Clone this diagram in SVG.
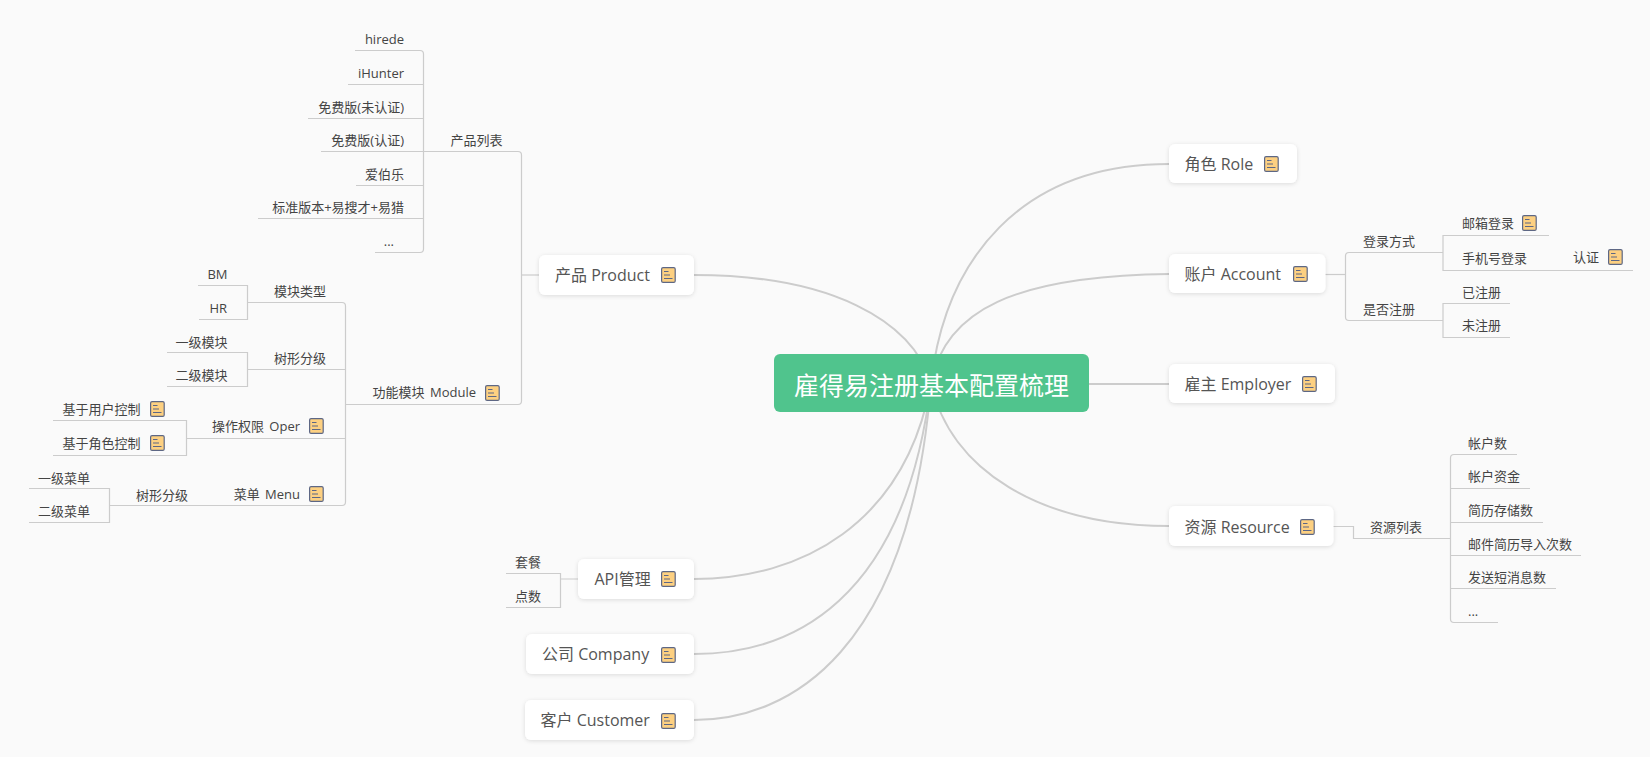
<svg xmlns="http://www.w3.org/2000/svg" width="1650" height="757" viewBox="0 0 1650 757">
<defs>
<symbol id="note" viewBox="0 0 15 16" overflow="visible">
<rect x="0.6" y="0.6" width="13.6" height="14.8" rx="1.5" fill="#fdd081" stroke="#5d6785" stroke-width="1.2"/>
<path d="M3 4.5H7.5M3 8H9M3 11.5H11.5" stroke="#5d6785" stroke-width="1.2" fill="none"/>
</symbol>
<filter id="sh" x="-10%" y="-20%" width="120%" height="150%"><feDropShadow dx="0" dy="1" stdDeviation="2" flood-color="#000" flood-opacity="0.12"/></filter>
</defs>
<style>
text{font-family:"Open Sans","Noto Sans CJK SC",sans-serif;dominant-baseline:central;fill:#444;transform:translateY(1px)}
.n{fill:#fff;filter:url(#sh)}
.t1{font-size:16px;fill:#555}
.t2{font-size:13px;word-spacing:2px}
.r{font-size:25px;fill:#fff}
.c{fill:none;stroke:#ccc;stroke-width:2}
.l{fill:none;stroke:#ccc;stroke-width:1.2}
</style>
<rect width="1650" height="757" fill="#fafafa"/>
<g id="connectors">
<path class="c" d="M931 383C945 260 1020 164 1169 164"/>
<path class="c" d="M931 383C945 310 1015 276 1169 274"/>
<path class="c" d="M1089 384H1169"/>
<path class="c" d="M931 383C950 470 1040 526 1169 526"/>
<path class="c" d="M931 383C912 320 830 275 694 275"/>
<path class="c" d="M931 383C905 525 800 579 694 579"/>
<path class="c" d="M931 383C905 603 790 654 694 654"/>
<path class="c" d="M931 383C910 651 790 720 694 720"/>
<path class="l" d="M355 50.500H420Q423.500 50.500 423.500 54V249Q423.500 252.500 420 252.500H375"/>
<path class="l" d="M348 84.500H423.500M308 118.500H423.500M321 151.500H518Q521.500 151.500 521.500 155V401Q521.500 404.500 518 404.500H346M356 185.500H423.500M258 218.500H423.500"/>
<path class="l" d="M521.500 275H539"/>
<path class="l" d="M198 285.500H247.500V319.500H199M247.500 302.500H342Q345.500 302.500 345.500 306V502Q345.500 505.500 342 505.500H207"/>
<path class="l" d="M167 352.500H247.500V386.500H167M247.500 369.500H345.500"/>
<path class="l" d="M53 420.500H186.500V455.500H53M186.500 438.500H345.500"/>
<path class="l" d="M29 488.500H109.500V522.500H29M109.500 505.500H207"/>
<path class="l" d="M506 573.500H560.500V607.500H506M560.500 579H578"/>
<path class="l" d="M1325 274.500H1345.500"/>
<path class="l" d="M1443 252.500H1349Q1345.500 252.500 1345.500 256V317Q1345.500 320.500 1349 320.500H1443"/>
<path class="l" d="M1549 235.500H1443V270.500H1633"/>
<path class="l" d="M1510 303.500H1443V337.500H1510"/>
<path class="l" d="M1333 526.500H1353.500V538.500H1450.500"/>
<path class="l" d="M1517 454.500H1454Q1450.500 454.500 1450.500 458V619Q1450.500 622.500 1454 622.500H1498"/>
<path class="l" d="M1450.500 488.500H1530M1450.500 522.500H1543M1450.500 555.500H1581M1450.500 588.500H1556"/>
</g>
<g id="root"><rect x="774" y="354" width="315" height="58" rx="6" fill="#50c48d"/><text class="r" x="931.500" y="384" text-anchor="middle">雇得易注册基本配置梳理</text></g>
<g id="n-product"><rect class="n" x="539" y="255" width="155" height="40" rx="6"/><text class="t1" x="555" y="274">产品 Product</text><use href="#note" x="661" y="267" width="15" height="16"/></g>
<g id="n-api"><rect class="n" x="578" y="559" width="116" height="40" rx="6"/><text class="t1" x="594.500" y="578">API管理</text><use href="#note" x="661" y="571" width="15" height="16"/></g>
<g id="n-company"><rect class="n" x="526" y="634" width="168" height="40" rx="6"/><text class="t1" x="542" y="653">公司 Company</text><use href="#note" x="661" y="647" width="15" height="16"/></g>
<g id="n-customer"><rect class="n" x="525" y="700" width="169" height="40" rx="6"/><text class="t1" x="540.500" y="719">客户 Customer</text><use href="#note" x="661" y="713" width="15" height="16"/></g>
<g id="n-role"><rect class="n" x="1169" y="144" width="128" height="39" rx="6"/><text class="t1" x="1184.500" y="163">角色 Role</text><use href="#note" x="1264" y="156" width="15" height="16"/></g>
<g id="n-account"><rect class="n" x="1169" y="254" width="156.500" height="39" rx="6"/><text class="t1" x="1184.500" y="273">账户 Account</text><use href="#note" x="1293" y="266" width="15" height="16"/></g>
<g id="n-employer"><rect class="n" x="1169" y="364" width="166" height="39" rx="6"/><text class="t1" x="1184.500" y="383">雇主 Employer</text><use href="#note" x="1302" y="376" width="15" height="16"/></g>
<g id="n-resource"><rect class="n" x="1169" y="506" width="164.500" height="40" rx="6"/><text class="t1" x="1184.500" y="526">资源 Resource</text><use href="#note" x="1300" y="519" width="15" height="16"/></g>
<g id="leaf-left" text-anchor="end">
<text class="t2" x="404" y="38">hirede</text>
<text class="t2" x="404" y="72">iHunter</text>
<text class="t2" x="404" y="106">免费版(未认证)</text>
<text class="t2" x="404" y="139">免费版(认证)</text>
<text class="t2" x="404" y="173">爱伯乐</text>
<text class="t2" x="404" y="206">标准版本+易搜才+易猎</text>
<text class="t2" x="394" y="240">...</text>
<text class="t2" x="502.500" y="139">产品列表</text>
<text class="t2" x="227.500" y="273">BM</text>
<text class="t2" x="227" y="307">HR</text>
<text class="t2" x="326" y="290">模块类型</text>
<text class="t2" x="227.500" y="341">一级模块</text>
<text class="t2" x="227.500" y="374">二级模块</text>
<text class="t2" x="326" y="357">树形分级</text>
<text class="t2" x="476" y="391">功能模块 Module</text>
<text class="t2" x="140.500" y="408">基于用户控制</text>
<text class="t2" x="140.500" y="442">基于角色控制</text>
<text class="t2" x="300" y="425">操作权限 Oper</text>
<text class="t2" x="300" y="493">菜单 Menu</text>
<text class="t2" x="188" y="494">树形分级</text>
<text class="t2" x="90" y="477">一级菜单</text>
<text class="t2" x="90" y="510">二级菜单</text>
<text class="t2" x="541" y="561">套餐</text>
<text class="t2" x="541" y="595">点数</text>
</g>
<g id="icons-left">
<use href="#note" x="485" y="385" width="15" height="16"/>
<use href="#note" x="150" y="401" width="15" height="16"/>
<use href="#note" x="150" y="435" width="15" height="16"/>
<use href="#note" x="309" y="418" width="15" height="16"/>
<use href="#note" x="309" y="486" width="15" height="16"/>
</g>
<g id="leaf-right">
<text class="t2" x="1363" y="240">登录方式</text>
<text class="t2" x="1363" y="308">是否注册</text>
<text class="t2" x="1462" y="222">邮箱登录</text>
<text class="t2" x="1462" y="257">手机号登录</text>
<text class="t2" x="1573" y="256">认证</text>
<text class="t2" x="1462" y="291">已注册</text>
<text class="t2" x="1462" y="324">未注册</text>
<text class="t2" x="1370" y="526">资源列表</text>
<text class="t2" x="1468" y="442">帐户数</text>
<text class="t2" x="1468" y="475">帐户资金</text>
<text class="t2" x="1468" y="509">简历存储数</text>
<text class="t2" x="1468" y="543">邮件简历导入次数</text>
<text class="t2" x="1468" y="576">发送短消息数</text>
<text class="t2" x="1468" y="610">...</text>
<use href="#note" x="1522" y="215" width="15" height="16"/>
<use href="#note" x="1608" y="249" width="15" height="16"/>
</g>
</svg>
